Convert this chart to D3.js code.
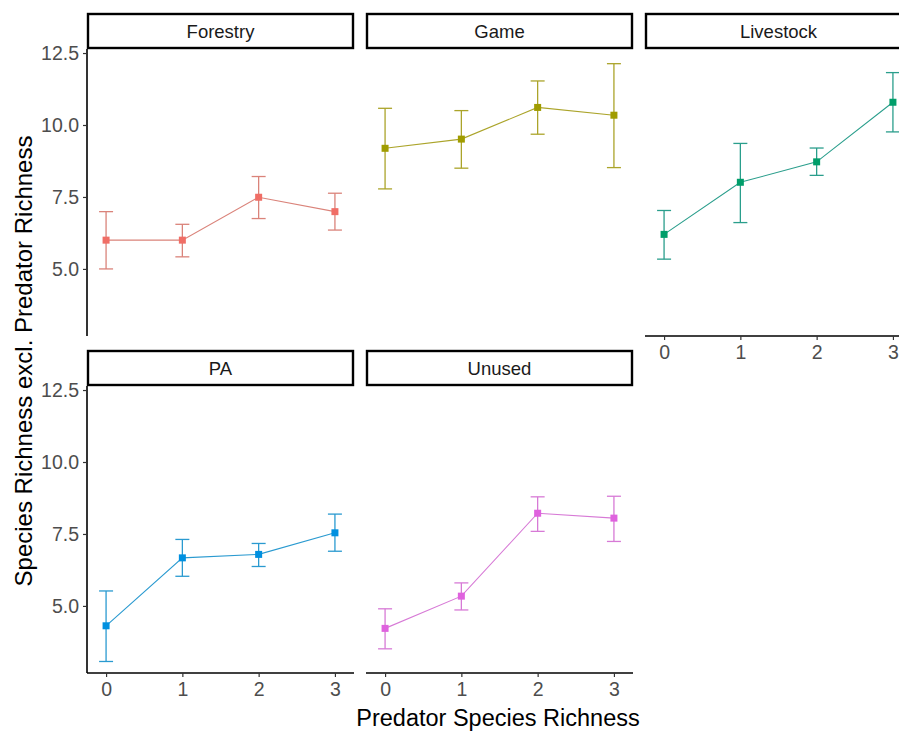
<!DOCTYPE html>
<html>
<head>
<meta charset="utf-8">
<script src="https://cdn.jsdelivr.net/npm/d3@7"></script>
<style>
  body { margin: 0; background: #fff; }
  text { font-family: "Liberation Sans", Arial, sans-serif; }
</style>
</head>
<body>
<div id="chart"></div>
<script>
// land use facets, in facet_wrap order
const facets = ["Forestry", "Game", "Livestock", "PA", "Unused"];
const richness = [0, 1, 2, 3];
const yTicks = [5.0, 7.5, 10.0, 12.5];

// mean and error bar ends, one row per facet
const meanValues = [
  [6.00, 6.00, 7.49, 6.99],
  [9.19, 9.51, 10.61, 10.34],
  [6.20, 8.01, 8.72, 10.79],
  [4.31, 6.67, 6.79, 7.54],
  [4.22, 5.34, 8.22, 8.05]
];
const lowerValues = [
  [5.00, 5.42, 6.75, 6.35],
  [7.78, 8.50, 9.68, 8.52],
  [5.34, 6.61, 8.25, 9.76],
  [3.07, 6.03, 6.37, 6.90],
  [3.51, 4.86, 7.59, 7.24]
];
const upperValues = [
  [6.99, 6.55, 8.21, 7.63],
  [10.58, 10.50, 11.53, 12.13],
  [7.03, 9.36, 9.20, 11.82],
  [5.52, 7.31, 7.17, 8.19],
  [4.90, 5.80, 8.79, 8.81]
];
const colours = ["#F06E66", "#A09C00", "#009E6A", "#0090E0", "#DF62DE"];
const lineColours = ["#DA837A", "#ABA42A", "#2A9E8C", "#2A9AD0", "#D77AD6"];

const width = 899, height = 731;
const panelW = 267, panelH = 287, stripH = 36;
const colX = [87, 366, 645];
const rowY = [13, 350];   // top of each strip row

const svg = d3.select("#chart").append("svg")
  .attr("width", width)
  .attr("height", height);

const x = d3.scaleLinear().domain([-0.25, 3.25]).range([0, panelW]);
const y = d3.scaleLinear().domain([2.67, 12.64]).range([panelH, 0]);

facets.forEach((name, i) => {
  const col = i % 3, row = Math.floor(i / 3);
  const g = svg.append("g")
    .attr("transform", `translate(${colX[col]},${rowY[row] + stripH})`);

  // strip
  svg.append("rect")
    .attr("x", colX[col] + 1)
    .attr("y", rowY[row] + 1)
    .attr("width", panelW - 2)
    .attr("height", stripH - 2)
    .attr("fill", "#fff")
    .attr("stroke", "#000")
    .attr("stroke-width", 2.4);
  svg.append("text")
    .attr("x", colX[col] + panelW / 2)
    .attr("y", rowY[row] + 25)
    .attr("text-anchor", "middle")
    .style("font-size", "18.5px")
    .style("fill", "#1a1a1a")
    .text(name);

  // y axis only on the first column
  if (col === 0) {
    const ya = g.append("g")
      .call(d3.axisLeft(y).tickValues(yTicks).tickFormat(d3.format(".1f")).tickSize(4).tickPadding(4));
    ya.select(".domain").attr("stroke", "#000").attr("stroke-width", 1.6).attr("d", `M0,0V${panelH}`);
    ya.selectAll(".tick line").attr("stroke", "#333").attr("stroke-width", 1.2);
    ya.selectAll(".tick text").style("font-size", "19.5px").style("fill", "#4d4d4d").attr("font-family", null);
  }

  // x axis on bottom panels (Livestock has nothing under it)
  if (row === 1 || col === 2) {
    const xa = g.append("g")
      .attr("transform", `translate(0,${panelH})`)
      .call(d3.axisBottom(x).tickValues(richness).tickFormat(d3.format("d")).tickSize(4).tickPadding(5));
    xa.select(".domain").attr("stroke", "#000").attr("stroke-width", 1.6).attr("d", `M0,0H${panelW}`);
    xa.selectAll(".tick line").attr("stroke", "#333").attr("stroke-width", 1.2);
    xa.selectAll(".tick text").style("font-size", "19.5px").style("fill", "#4d4d4d").attr("font-family", null);
  }

  const pts = richness.map((r, j) => ({
    r: r, m: meanValues[i][j], lo: lowerValues[i][j], hi: upperValues[i][j]
  }));
  const c = colours[i];

  // error bars
  const eb = g.selectAll(".eb").data(pts).enter().append("g")
    .attr("stroke", lineColours[i]).attr("stroke-width", 1.3);
  eb.append("line")
    .attr("x1", d => x(d.r)).attr("x2", d => x(d.r))
    .attr("y1", d => y(d.lo)).attr("y2", d => y(d.hi));
  eb.append("line")
    .attr("x1", d => x(d.r) - 7).attr("x2", d => x(d.r) + 7)
    .attr("y1", d => y(d.lo)).attr("y2", d => y(d.lo));
  eb.append("line")
    .attr("x1", d => x(d.r) - 7).attr("x2", d => x(d.r) + 7)
    .attr("y1", d => y(d.hi)).attr("y2", d => y(d.hi));

  // connecting line
  g.append("path")
    .datum(pts)
    .attr("fill", "none")
    .attr("stroke", lineColours[i])
    .attr("stroke-width", 1.1)
    .attr("d", d3.line().x(d => x(d.r)).y(d => y(d.m)));

  // square points
  g.selectAll(".pt").data(pts).enter().append("rect")
    .attr("x", d => x(d.r) - 3.5)
    .attr("y", d => y(d.m) - 3.5)
    .attr("width", 7)
    .attr("height", 7)
    .attr("fill", c);
});

// axis titles
svg.append("text")
  .attr("x", 498)
  .attr("y", 726)
  .attr("text-anchor", "middle")
  .style("font-size", "23.5px")
  .style("fill", "#000")
  .text("Predator Species Richness");

svg.append("text")
  .attr("transform", "translate(32,361) rotate(-90)")
  .attr("text-anchor", "middle")
  .style("font-size", "24px")
  .style("fill", "#000")
  .text("Species Richness excl. Predator Richness");
</script>
</body>
</html>
